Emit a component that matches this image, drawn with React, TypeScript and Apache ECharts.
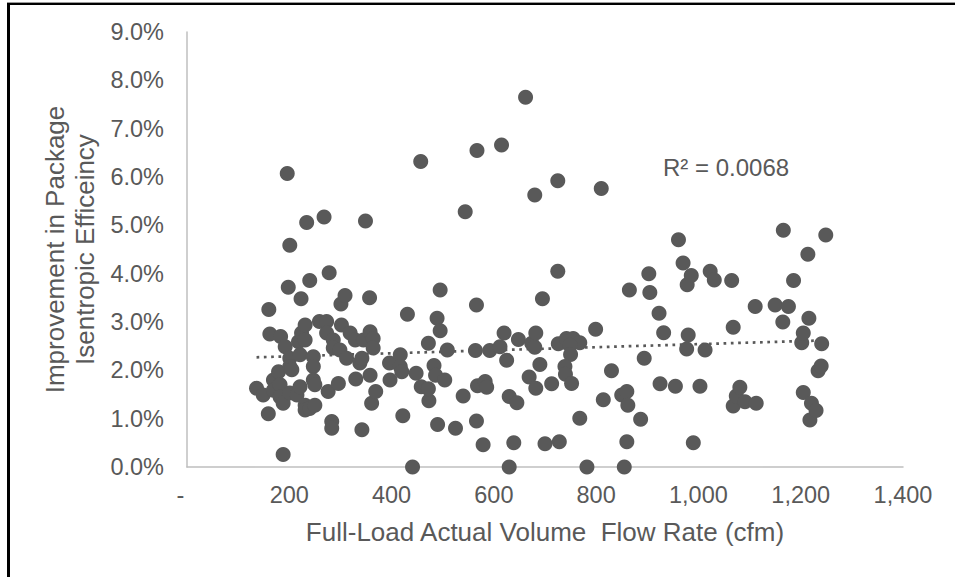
import React, { useEffect, useRef } from "react";
import * as echarts from "echarts";

// Full-load actual volume flow rate (cfm)
const flowRate: number[] = [
  136, 149, 159, 160, 162, 169, 169, 179, 182, 182, 183, 188, 188, 192, 196, 198, 201, 201, 201, 201,
  205, 215, 218, 221, 221, 223, 224, 231, 231, 231, 231, 234, 240, 240, 247, 247, 247, 250, 250, 259,
  268, 273, 273, 276, 278, 283, 283, 286, 286, 296, 299, 301, 302, 309, 312, 319, 329, 330, 338, 342,
  342, 345, 349, 357, 358, 358, 361, 364, 364, 369, 396, 397, 417, 417, 420, 422, 431, 441, 448, 458,
  457, 472, 473, 472, 483, 486, 504, 490, 489, 495, 495, 509, 525, 540, 544, 566, 564, 566, 567, 568,
  579, 583, 586, 592, 612, 615, 620, 625, 630, 645, 630, 639, 648, 662, 669, 674, 680, 680, 682, 682,
  690, 695, 700, 713, 725, 725, 726, 742, 755, 768, 749, 750, 739, 740, 752, 728, 768, 782, 799, 810,
  814, 830, 850, 860, 862, 855, 860, 865, 887, 894, 903, 905, 923, 925, 932, 955, 961, 970, 977, 978,
  980, 986, 990, 1003, 1013, 1023, 1031, 1065, 1068, 1068, 1074, 1081, 1091, 1111, 1113, 1150, 1165, 1166, 1176, 1186,
  1202, 1205, 1205, 1214, 1216, 1218, 1221, 1230, 1234, 1240, 1241, 1249
];

// Improvement in package isentropic efficiency (%)
const improvement: number[] = [
  1.63, 1.49, 1.10, 3.26, 2.75, 1.80, 1.59, 1.97, 1.70, 1.45, 2.70, 1.32, 0.26, 2.49, 6.07, 3.72, 4.59, 2.25, 2.08, 1.53,
  2.01, 1.49, 2.59, 2.32, 1.66, 3.48, 2.77, 2.94, 2.63, 1.28, 1.18, 5.06, 3.86, 1.21, 2.28, 2.08, 1.80, 1.70, 1.28, 3.01,
  5.17, 3.01, 2.77, 1.56, 4.02, 0.94, 0.80, 2.63, 2.46, 1.73, 2.42, 3.37, 2.94, 3.55, 2.25, 2.77, 2.63, 1.82, 2.15, 2.25,
  0.77, 2.63, 5.09, 3.50, 2.80, 1.90, 1.32, 2.66, 2.46, 1.56, 2.15, 1.80, 2.32, 2.08, 1.97, 1.06, 3.16, 0.00, 1.94, 1.66,
  6.32, 2.56, 1.37, 1.62, 2.10, 1.90, 1.80, 0.88, 3.08, 3.66, 2.82, 2.42, 0.80, 1.47, 5.28, 3.35, 2.41, 0.95, 6.55, 1.68,
  0.46, 1.77, 1.65, 2.41, 2.49, 6.66, 2.77, 2.21, 1.46, 1.33, 0.00, 0.50, 2.64, 7.65, 1.86, 2.56, 2.48, 5.63, 2.77, 1.63,
  2.12, 3.48, 0.48, 1.72, 5.92, 4.05, 2.55, 2.66, 2.66, 2.57, 2.52, 2.33, 2.08, 1.92, 1.73, 0.52, 1.01, 0.00, 2.85, 5.76,
  1.39, 1.99, 1.49, 1.56, 1.28, 0.00, 0.52, 3.66, 0.99, 2.25, 4.00, 3.61, 3.18, 1.72, 2.78, 1.67, 4.70, 4.22, 2.44, 3.77,
  2.73, 3.96, 0.50, 1.67, 2.42, 4.05, 3.87, 3.86, 2.89, 1.26, 1.47, 1.65, 1.35, 3.32, 1.32, 3.35, 3.00, 4.90, 3.32, 3.86,
  2.57, 2.77, 1.54, 4.40, 3.08, 0.97, 1.32, 1.17, 1.99, 2.09, 2.55, 4.80
];

// Linear trendline end points [cfm, %]
const trendline: [number, number][] = [
  [136, 2.27],
  [1249, 2.62],
];

const xTicks: number[] = [0, 200, 400, 600, 800, 1000, 1200, 1400];
const yTicks: number[] = [0, 1, 2, 3, 4, 5, 6, 7, 8, 9];
const rSquaredText = "R² = 0.0068";
const xTitle = "Full-Load Actual Volume  Flow Rate (cfm)";
const yTitle = "Improvement in Package\nIsentropic Efficeincy";

const FONT = '"Liberation Sans", Arial, Helvetica, sans-serif';
const TEXT = "#595959";

export default function App() {
  const ref = useRef<HTMLDivElement>(null);
  useEffect(() => {
    if (!ref.current) return;
    const chart = echarts.init(ref.current, undefined, { renderer: "svg" });
    const points = flowRate.map((x, i) => [x, improvement[i]]);
    chart.setOption({
      animation: false,
      backgroundColor: "#ffffff",
      textStyle: { fontFamily: FONT },
      grid: { left: 187, right: 52, top: 32, bottom: 110, containLabel: false },
      xAxis: {
        type: "value",
        min: xTicks[0],
        max: xTicks[xTicks.length - 1],
        interval: 200,
        name: xTitle,
        nameLocation: "middle",
        nameGap: 52,
        nameTextStyle: { color: TEXT, fontSize: 26, fontFamily: FONT },
        axisLine: { show: true, lineStyle: { color: "#bfbfbf", width: 1.5 } },
        axisTick: { show: false },
        splitLine: { show: false },
        axisLabel: {
          color: TEXT,
          fontSize: 23.5,
          fontFamily: FONT,
          margin: 16,
          formatter: (v: number) => (v === 0 ? "-  " : v.toLocaleString("en-US")),
        },
      },
      yAxis: {
        type: "value",
        min: yTicks[0],
        max: yTicks[yTicks.length - 1],
        interval: 1,
        name: yTitle,
        nameLocation: "middle",
        nameRotate: 90,
        nameGap: 82,
        nameTextStyle: { color: TEXT, fontSize: 26, lineHeight: 30, fontFamily: FONT, align: "center" },
        axisLine: { show: true, lineStyle: { color: "#bfbfbf", width: 1.5 } },
        axisTick: { show: false },
        splitLine: { show: false },
        axisLabel: {
          color: TEXT,
          fontSize: 23.5,
          fontFamily: FONT,
          margin: 23,
          formatter: (v: number) => v.toFixed(1) + "%",
        },
      },
      series: [
        {
          type: "line",
          data: trendline,
          symbol: "none",
          z: 1,
          lineStyle: { color: TEXT, width: 2.7, type: [2.7, 4.6], cap: "butt" },
          silent: true,
        },
        {
          type: "scatter",
          data: points,
          symbol: "circle",
          symbolSize: 15,
          z: 3,
          itemStyle: { color: "#595959", opacity: 1 },
        },
      ],
      graphic: [
        {
          type: "text",
          left: 663,
          top: 155,
          style: { text: rSquaredText, fill: TEXT, fontSize: 24, fontFamily: FONT },
        },
        {
          type: "rect",
          shape: { x: 7, y: 2, width: 948, height: 1 },
          style: { fill: "#9a9a9a" },
        },
        {
          type: "rect",
          shape: { x: 7, y: 3, width: 948, height: 2 },
          style: { fill: "#000000" },
        },
        {
          type: "rect",
          shape: { x: 7, y: 3, width: 3, height: 574 },
          style: { fill: "#000000" },
        },
      ],
    });
    return () => chart.dispose();
  }, []);
  return (
    <div
      ref={ref}
      style={{ position: "fixed", left: 0, top: 0, width: 955, height: 577, background: "#fff" }}
    />
  );
}
